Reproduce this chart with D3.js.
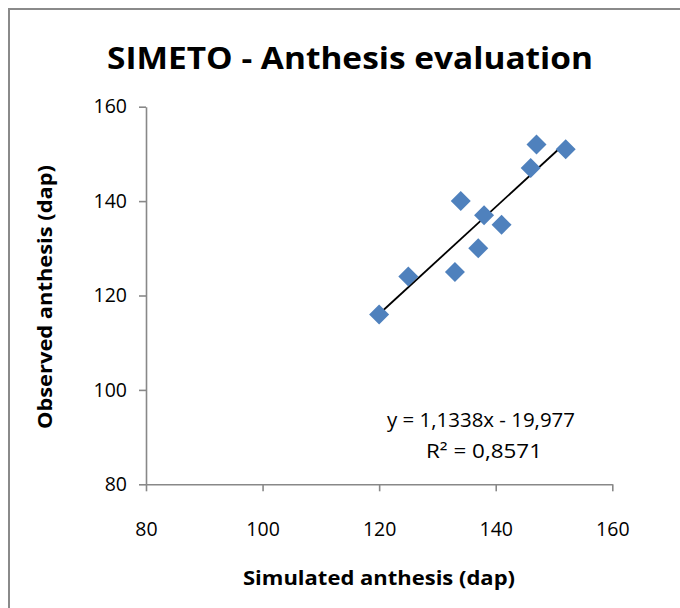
<!DOCTYPE html>
<html><head><meta charset="utf-8">
<script src="https://cdn.jsdelivr.net/npm/d3@7/dist/d3.min.js"></script>
<style>body{margin:0;background:#fff}svg{display:block}</style>
</head><body>
<svg id="c" width="680" height="608"></svg>
<script>
const simulated = [120, 125, 133, 134, 137, 138, 141, 146, 147, 152];
const observed  = [116, 124, 125, 140, 130, 137, 135, 147, 152, 151];
const xTicks = [80, 100, 120, 140, 160];
const yTicks = [80, 100, 120, 140, 160];
const slope = 1.1338, intercept = -19.977;
const titleText = "SIMETO - Anthesis evaluation";
const xTitle = "Simulated anthesis (dap)";
const yTitle = "Observed anthesis (dap)";
const eqText = "y = 1,1338x - 19,977";
const r2Text = "R² = 0,8571";

const svg = d3.select("#c");
const font = "'Open Sans', 'Noto Sans', sans-serif";
// frame
svg.append("path").attr("d","M9,608 V9 H680").attr("fill","none").attr("stroke","#8a8a8a").attr("stroke-width",2);

const x = d3.scaleLinear().domain([80,160]).range([146,612.3]);
const y = d3.scaleLinear().domain([80,160]).range([484.3,106.7]);

const xa = svg.append("g").attr("transform","translate(0,"+y(80)+")")
  .call(d3.axisBottom(x).tickValues(xTicks).tickSize(7).tickSizeOuter(0).tickPadding(31));
const ya = svg.append("g").attr("transform","translate("+x(80)+",0)")
  .call(d3.axisLeft(y).tickValues(yTicks).tickSize(7).tickSizeOuter(0).tickPadding(12));
[xa,ya].forEach(g=>{
  g.select(".domain").attr("stroke","#888").attr("stroke-width",1.6);
  g.selectAll(".tick line").attr("stroke","#888").attr("stroke-width",1.6);
  g.selectAll(".tick text").attr("fill","#000").attr("font-family",font).attr("font-size",19.5);
});

// trend line
const x0 = d3.min(simulated), x1 = d3.max(simulated);
svg.append("line").attr("x1",x(x0)).attr("y1",y(slope*x0+intercept))
  .attr("x2",x(x1)).attr("y2",y(slope*x1+intercept))
  .attr("stroke","#000").attr("stroke-width",1.8);

// points
const sym = d3.symbol().type(d3.symbolSquare).size(200);
svg.append("g").selectAll("path").data(simulated.map((d,i)=>[d,observed[i]])).join("path")
  .attr("d",sym).attr("transform",d=>"translate("+x(d[0])+","+y(d[1])+") rotate(45)")
  .attr("fill","#4F81BD");

// texts
svg.append("text").attr("x",350).attr("y",69).attr("text-anchor","middle")
  .attr("font-family",font).attr("font-weight","bold").attr("font-size",31)
  .attr("textLength",486).attr("lengthAdjust","spacingAndGlyphs").text(titleText);
svg.append("text").attr("x",379).attr("y",585).attr("text-anchor","middle")
  .attr("font-family",font).attr("font-weight","bold").attr("font-size",19.5)
  .attr("textLength",272).attr("lengthAdjust","spacingAndGlyphs").text(xTitle);
svg.append("text").attr("transform","translate(52,297) rotate(-90)").attr("text-anchor","middle")
  .attr("font-family",font).attr("font-weight","bold").attr("font-size",19.5)
  .attr("textLength",264).attr("lengthAdjust","spacingAndGlyphs").text(yTitle);
svg.append("text").attr("x",481).attr("y",427).attr("text-anchor","middle")
  .attr("font-family",font).attr("font-size",19.5)
  .attr("textLength",188).attr("lengthAdjust","spacingAndGlyphs").text(eqText);
svg.append("text").attr("x",484).attr("y",458).attr("text-anchor","middle")
  .attr("font-family",font).attr("font-size",19.5)
  .attr("textLength",116).attr("lengthAdjust","spacingAndGlyphs").text(r2Text);
</script>
</body></html>
